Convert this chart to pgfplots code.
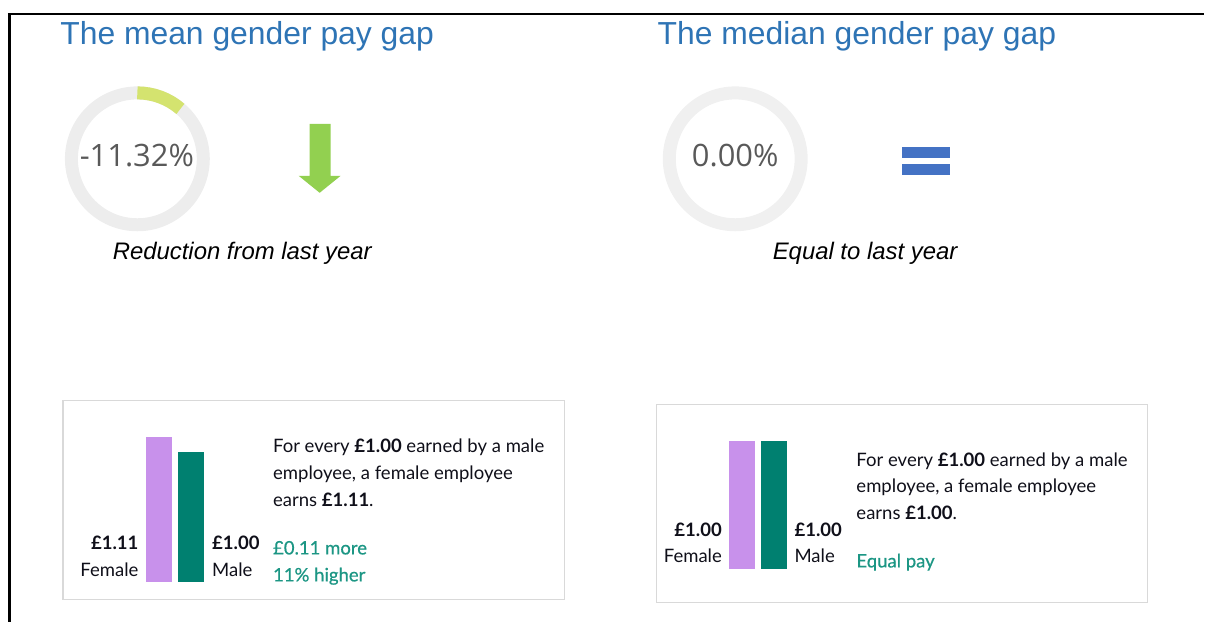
\documentclass[border=0pt]{standalone}
\usepackage{fontspec}
\usepackage{pgfplots}
\pgfplotsset{compat=1.18}
\setmainfont{Liberation Sans}
\newfontfamily\arial{Liberation Sans}
\newfontfamily\opensans{Open Sans}
\newfontfamily\lato{Lato}
\newfontfamily\latomed[FakeBold=0.6]{Lato}
\definecolor{titleblue}{RGB}{46,116,181}
\definecolor{ringgrey}{RGB}{237,237,237}
\definecolor{arcgreen}{RGB}{212,227,111}
\definecolor{arrowgreen}{RGB}{146,208,80}
\definecolor{eqblue}{RGB}{68,114,196}
\definecolor{numgrey}{RGB}{89,89,89}
\definecolor{femalec}{RGB}{200,145,235}
\definecolor{malec}{RGB}{0,128,112}
\definecolor{tealtext}{RGB}{28,150,132}
\definecolor{boxgrey}{RGB}{217,217,217}
\definecolor{bodytext}{RGB}{15,15,25}

% Gauge values (percent)
\def\meangap{-11.32}
\def\mediangap{0.00}

\begin{document}
\begin{tikzpicture}
% page frame: 1205 x 623 px at 0.5bp per px
\path (0,0) rectangle (602.5bp,-311.5bp);

% ---- donut gauges ----
\draw[ringgrey, line width=6.5bp] (68.75bp,-79.5bp) circle[radius=33bp];
\draw[arcgreen, line width=6.5bp] (68.75bp,-79.5bp) ++(90:33bp)
  arc[start angle=90, end angle={90-3.6*abs(\meangap)}, radius=33bp];
\draw[ringgrey!85!white, line width=6.5bp] (368bp,-79.5bp) circle[radius=33bp];

\begin{scope}[x=0.5bp, y=-0.5bp]
% borders
\draw[black, line width=1.3bp] (8,14) -- (1205,14);
\draw[black, line width=1.3bp] (9.5,13.4) -- (9.5,623);
\draw[boxgrey, line width=0.7bp] (63,401) rectangle (565,600);
\draw[boxgrey, line width=0.7bp] (657,405) rectangle (1149,603);

% titles
\node[anchor=base west, inner sep=0pt, text=titleblue, font=\arial\fontsize{16}{19}\selectfont] at (60,45) {The mean gender pay gap};
\node[anchor=base west, inner sep=0pt, text=titleblue, font=\arial\fontsize{16}{19}\selectfont] at (658,45) {The median gender pay gap};

% gauge numbers
\node[anchor=base, inner sep=0pt, text=numgrey, font=\opensans\fontsize{15.5}{18}\selectfont] at (137,167) {\meangap\%};
\node[anchor=base, inner sep=0pt, text=numgrey, font=\opensans\fontsize{15.5}{18}\selectfont] at (736,167) {\mediangap\%};

% arrow and equals sign
\fill[arrowgreen] (310,124) -- (331,124) -- (331,176) -- (341,176) -- (320,193) -- (299,176) -- (310,176) -- cycle;
\fill[eqblue] (903,147) rectangle (951,158);
\fill[eqblue] (903,164) rectangle (951,175);

% captions
\node[anchor=base, inner sep=0pt, font=\arial\itshape\fontsize{12}{14}\selectfont] at (242.5,260) {Reduction from last year};
\node[anchor=base, inner sep=0pt, font=\arial\itshape\fontsize{12}{14}\selectfont] at (866,260) {Equal to last year};

% ---- panel 1 texts ----
\begin{scope}[every node/.style={inner sep=0pt, text=bodytext, font=\lato\fontsize{9.3}{11}\selectfont}]
\node[anchor=base east] at (139,550) {\bfseries £1.11};
\node[anchor=base east] at (139,577) {Female};
\node[anchor=base west] at (212,550) {\bfseries £1.00};
\node[anchor=base west] at (212,577) {Male};
\node[anchor=base west] at (273,453) {For every \textbf{£1.00} earned by a male};
\node[anchor=base west] at (273,480) {employee, a female employee};
\node[anchor=base west] at (273,507) {earns \textbf{£1.11}.};
\node[anchor=base west, text=tealtext, font=\latomed\fontsize{9.3}{11}\selectfont] at (273,555) {£0.11 more};
\node[anchor=base west, text=tealtext, font=\latomed\fontsize{9.3}{11}\selectfont] at (273,582) {11\% higher};
% ---- panel 2 texts ----
\node[anchor=base east] at (723,537) {\bfseries £1.00};
\node[anchor=base east] at (723,563) {Female};
\node[anchor=base west] at (795,537) {\bfseries £1.00};
\node[anchor=base west] at (795,563) {Male};
\node[anchor=base west] at (857,467) {For every \textbf{£1.00} earned by a male};
\node[anchor=base west] at (857,493) {employee, a female employee};
\node[anchor=base west] at (857,520) {earns \textbf{£1.00}.};
\node[anchor=base west, text=tealtext, font=\latomed\fontsize{9.3}{11}\selectfont] at (857,568) {Equal pay};
\end{scope}
\end{scope}

% ---- bar charts ----
\pgfplotsset{paybars/.style={
  hide axis, scale only axis, anchor=south west,
  x=16bp, xmin=-0.5, xmax=1.5, ymin=0, ymax=1.2,
  ybar, bar width=13bp, bar shift=0pt, clip=false}}
\begin{axis}[paybars, y=65.5bp, at={(71.5bp,-291.5bp)}]
\addplot[fill=femalec, draw=none] coordinates {(0,1.11)};
\addplot[fill=malec, draw=none] coordinates {(1,1.00)};
\end{axis}
\begin{axis}[paybars, y=64.5bp, at={(363.5bp,-285bp)}]
\addplot[fill=femalec, draw=none] coordinates {(0,1.00)};
\addplot[fill=malec, draw=none] coordinates {(1,1.00)};
\end{axis}
\end{tikzpicture}
\end{document}
